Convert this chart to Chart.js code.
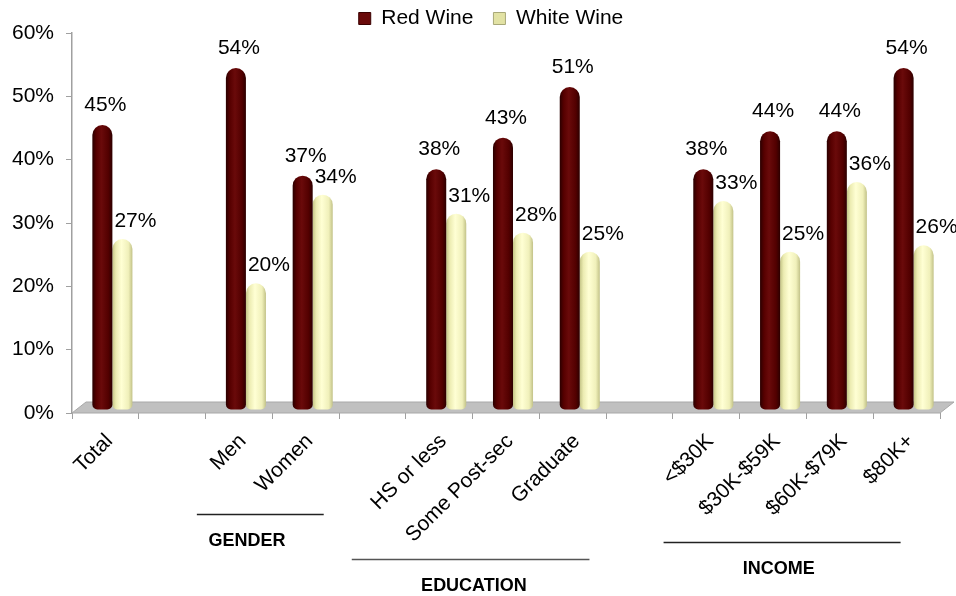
<!DOCTYPE html>
<html>
<head>
<meta charset="utf-8">
<script src="https://cdn.jsdelivr.net/npm/chart.js@4/dist/chart.umd.min.js"></script>
<style>
  html, body { margin: 0; padding: 0; background: #fff; }
  #wrap { width: 956px; height: 596px; position: relative; }
</style>
</head>
<body>
<div id="wrap"><canvas id="c"></canvas></div>
<script>
const categories = ['Total', '', 'Men', 'Women', '', 'HS or less', 'Some Post-sec', 'Graduate', '', '<$30K', '$30K-$59K', '$60K-$79K', '$80K+'];
const redWine = [45, null, 54, 37, null, 38, 43, 51, null, 38, 44, 44, 54];
const whiteWine = [27, null, 20, 34, null, 31, 28, 25, null, 33, 25, 36, 26];
const seriesNames = ['Red Wine', 'White Wine'];
const yTickValues = [0, 10, 20, 30, 40, 50, 60];
const groupNames = ['GENDER', 'EDUCATION', 'INCOME'];
const groupRanges = [[2, 3], [5, 7], [9, 12]];

const FONT = 'Liberation Sans, Arial, sans-serif';
const DX = 7, DY = -3;
const LEGEND_PAD = 20;
const TOP_PAD = -(LEGEND_PAD - 8);
const LEGEND_SHIFT = 21;

function barGradient(ctx, dsIndex) {
  const chart = ctx.chart;
  const xs = chart.scales && chart.scales.x;
  const solid = dsIndex === 0 ? '#5a0000' : '#f6f6c0';
  if (!xs || ctx.type !== 'data' || xs.width === undefined) return solid;
  const c = xs.getPixelForValue(ctx.dataIndex);
  const half = xs.width / categories.length * 0.3;
  const x0 = dsIndex === 0 ? c - half : c;
  const g = chart.ctx.createLinearGradient(x0, 0, x0 + half, 0);
  if (dsIndex === 0) {
    g.addColorStop(0, '#2a0000');
    g.addColorStop(0.2, '#560000');
    g.addColorStop(0.45, '#6a0a0a');
    g.addColorStop(0.8, '#520000');
    g.addColorStop(1, '#2c0000');
  } else {
    g.addColorStop(0, '#c4c486');
    g.addColorStop(0.18, '#ececb2');
    g.addColorStop(0.45, '#ffffd4');
    g.addColorStop(0.8, '#f0f0ba');
    g.addColorStop(1, '#c2c288');
  }
  return g;
}

const scenePlugin = {
  id: 'scene',
  beforeLayout(chart) {
    const lg = chart.legend;
    if (lg && !lg._patched) {
      const orig = lg.fit;
      lg.fit = function () { orig.call(this); this.height = 33 - TOP_PAD; };
      lg._patched = true;
    }
  },
  afterLayout(chart) {
    const lg = chart.legend;
    if (lg) { lg.left += LEGEND_SHIFT; lg.right += LEGEND_SHIFT; }
  },
  beforeDatasetsDraw(chart) {
    const { ctx, chartArea: a } = chart;
    ctx.save();
    ctx.beginPath();
    ctx.moveTo(a.left, a.bottom);
    ctx.lineTo(a.right, a.bottom);
    ctx.lineTo(a.right + 14, a.bottom - 11);
    ctx.lineTo(a.left + 14, a.bottom - 11);
    ctx.closePath();
    ctx.fillStyle = '#c0c0c0';
    ctx.fill();
    ctx.strokeStyle = '#a8a8a8';
    ctx.lineWidth = 1;
    ctx.stroke();
    ctx.restore();
    ctx.save();
    ctx.translate(DX, DY);
  },
  afterDatasetsDraw(chart) {
    const ctx = chart.ctx;
    ctx.restore();
    ctx.save();
    ctx.font = '21px ' + FONT;
    ctx.fillStyle = '#000';
    ctx.textAlign = 'center';
    ctx.textBaseline = 'alphabetic';
    chart.data.datasets.forEach((ds, di) => {
      const meta = chart.getDatasetMeta(di);
      meta.data.forEach((el, i) => {
        const v = ds.data[i];
        if (v === null || v === undefined) return;
        const x = el.x + DX + (di === 0 ? 3 : 13);
        const y = el.y + DY - (di === 0 ? 14 : 12);
        ctx.fillText(v + '%', x, y);
      });
    });
    ctx.restore();
  },
  afterDraw(chart) {
    const ctx = chart.ctx;
    const xs = chart.scales.x;
    const step = xs.width / categories.length;
    const lineY = [514, 559, 542];
    const ext = [[-0.63, 0.27], [-1.31, 0.25], [-0.64, -0.09]];
    const textShift = [-0.2, 0.05, -0.05];
    ctx.save();
    groupNames.forEach((name, gi) => {
      const [f, t] = groupRanges[gi];
      const x0 = xs.getPixelForValue(f) + ext[gi][0] * step;
      const x1 = xs.getPixelForValue(t) + ext[gi][1] * step;
      ctx.beginPath();
      ctx.moveTo(x0, lineY[gi] + 0.5);
      ctx.lineTo(x1, lineY[gi] + 0.5);
      ctx.strokeStyle = gi === 1 ? '#555' : '#222';
      ctx.lineWidth = 1.3;
      ctx.stroke();
      ctx.font = 'bold 18px ' + FONT;
      ctx.fillStyle = '#000';
      ctx.textAlign = 'center';
      ctx.textBaseline = 'middle';
      ctx.fillText(name, (x0 + x1) / 2 + textShift[gi] * step, lineY[gi] + 27);
    });
    ctx.restore();
  }
};

new Chart(document.getElementById('c'), {
  type: 'bar',
  data: {
    labels: categories,
    datasets: [
      {
        label: seriesNames[0],
        data: redWine,
        backgroundColor: (ctx) => barGradient(ctx, 0),
        borderRadius: { topLeft: 10, topRight: 10, bottomLeft: 5, bottomRight: 5 },
        borderSkipped: false,
        categoryPercentage: 0.6,
        barPercentage: 1
      },
      {
        label: seriesNames[1],
        data: whiteWine,
        backgroundColor: (ctx) => barGradient(ctx, 1),
        borderRadius: { topLeft: 10, topRight: 10, bottomLeft: 5, bottomRight: 5 },
        borderSkipped: false,
        categoryPercentage: 0.6,
        barPercentage: 1
      }
    ]
  },
  options: {
    responsive: true,
    maintainAspectRatio: false,
    animation: false,
    layout: { padding: { top: TOP_PAD, right: 16, left: 0, bottom: 0 } },
    plugins: {
      tooltip: { enabled: false },
      legend: {
        position: 'top',
        labels: {
          font: { size: 21, family: FONT },
          color: '#000',
          boxWidth: 12,
          boxHeight: 12,
          padding: LEGEND_PAD,
          generateLabels: (chart) => [
            { text: seriesNames[0], fillStyle: '#6a0a0a', strokeStyle: '#3a0000', lineWidth: 1, datasetIndex: 0, hidden: false, fontColor: '#000' },
            { text: seriesNames[1], fillStyle: '#e2e2a4', strokeStyle: '#a8a878', lineWidth: 1, datasetIndex: 1, hidden: false, fontColor: '#000' }
          ]
        }
      }
    },
    scales: {
      x: {
        offset: true,
        grid: { offset: true, drawOnChartArea: false, tickLength: 6, color: '#a0a0a0' },
        border: { display: false },
        ticks: {
          autoSkip: false,
          maxRotation: 45,
          minRotation: 45,
          font: { size: 21, family: FONT },
          color: '#000',
          padding: 10,
          labelOffset: 4
        },
        afterFit: (s) => { s.height = 183; }
      },
      y: {
        min: 0,
        max: 60,
        afterBuildTicks: (s) => { s.ticks = yTickValues.map(v => ({ value: v })); },
        grid: { drawOnChartArea: false, tickLength: 6, color: '#a0a0a0' },
        border: { display: true, color: '#a0a0a0', width: 1.5 },
        ticks: {
          font: { size: 21, family: FONT },
          color: '#000',
          padding: 12,
          callback: (v) => v + '%'
        },
        afterFit: (s) => { s.width = 72; }
      }
    }
  },
  plugins: [scenePlugin]
});
</script>
</body>
</html>
